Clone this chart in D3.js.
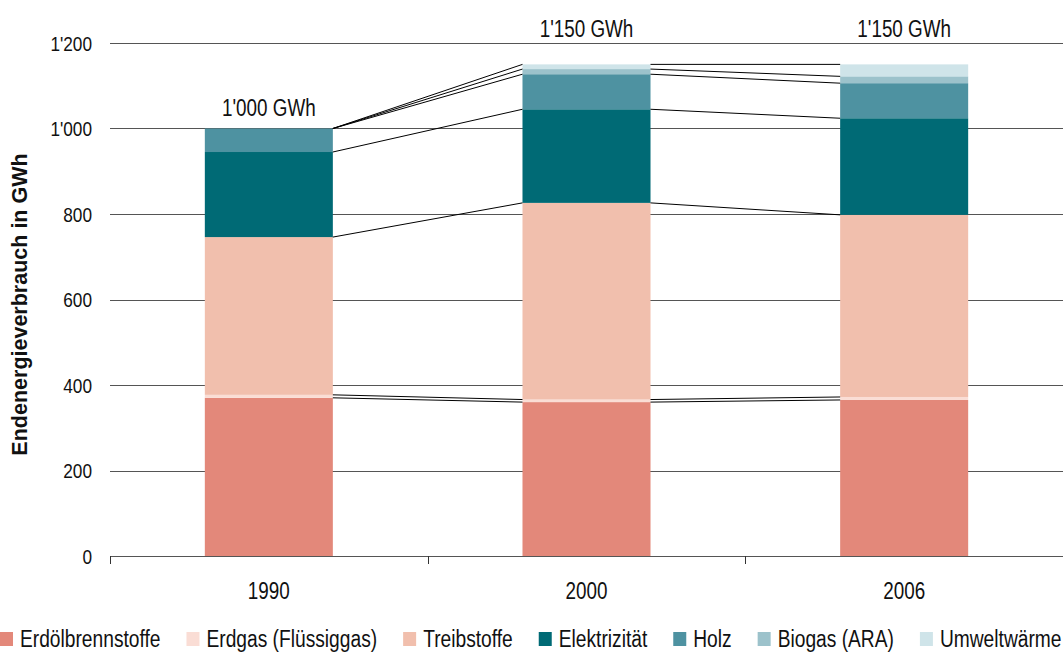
<!DOCTYPE html>
<html><head><meta charset="utf-8">
<script src="https://cdn.jsdelivr.net/npm/d3@7"></script>
<style>
html,body{margin:0;padding:0;background:#fff;}
svg{display:block;font-family:"Liberation Sans",Arial,sans-serif;}
</style></head>
<body>
<svg id="chart" width="1063" height="653"></svg>
<script>
const categories = ["1990", "2000", "2006"];
const seriesNames = ["Erdölbrennstoffe", "Erdgas (Flüssiggas)", "Treibstoffe", "Elektrizität", "Holz", "Biogas (ARA)", "Umweltwärme"];
const erdoel      = [370, 360, 365];
const erdgas      = [7, 6, 7];
const treibstoffe = [369, 460, 426];
const elektrizitaet = [199, 219, 226];
const holz        = [55, 82, 82];
const biogas      = [0, 12, 16];
const umweltwaerme = [0, 11, 28];
const totalLabels = ["1'000 GWh", "1'150 GWh", "1'150 GWh"];
const yTicks = [0, 200, 400, 600, 800, 1000, 1200];
const colors = ["#E3887A", "#FADDD5", "#F1BFAD", "#006A75", "#4E92A1", "#9CC2CB", "#CFE4E9"];

const seriesValues = [erdoel, erdgas, treibstoffe, elektrizitaet, holz, biogas, umweltwaerme];
const table = categories.map((c, i) => {
  const row = {cat: c};
  seriesNames.forEach((s, k) => row[s] = seriesValues[k][i]);
  return row;
});
const stacked = d3.stack().keys(seriesNames)(table);

const svg = d3.select("#chart");
const x = d3.scaleBand().domain(categories).range([110, 1063]).paddingInner(0.597).paddingOuter(0.2985);
const y = d3.scaleLinear().domain([0, 1200]).range([556, 43]);
const fmt = v => d3.format(",")(v).replace(/,/g, "'");
const NARROW = 0.82;

// condensed text helper (no narrow font installed)
function ntext(parent, tx, ty, str, size, anchor, dy, sx) {
  const gg = parent.append("g").attr("transform", `translate(${tx},${ty}) scale(${sx || NARROW},1)`);
  const t = gg.append("text").attr("x", 0).attr("y", 0)
    .attr("font-size", size).attr("fill", "#111").attr("text-anchor", anchor || "start").text(str);
  if (dy) t.attr("dy", dy);
  return t;
}

// gridlines
svg.append("g").selectAll("line").data(yTicks.filter(t => t > 0)).join("line")
  .attr("x1", 110).attr("x2", 1063)
  .attr("y1", d => Math.round(y(d)) + 0.5).attr("y2", d => Math.round(y(d)) + 0.5)
  .attr("stroke", "#555").attr("stroke-width", 1);

// y tick labels
const yl = svg.append("g");
yTicks.forEach(t => ntext(yl, 92, y(t), fmt(t), 21, "end", "0.36em"));

// y axis title
svg.append("text")
  .attr("transform", `translate(27,${(152 + 457) / 2}) rotate(-90)`)
  .attr("text-anchor", "middle").attr("font-size", 21.5).attr("font-weight", "bold").attr("fill", "#111")
  .text("Endenergieverbrauch in GWh");

// bars
const g = svg.append("g");
stacked.forEach((layer, k) => {
  g.selectAll(null).data(layer).join("rect")
    .attr("x", d => x(d.data.cat))
    .attr("width", x.bandwidth())
    .attr("y", d => y(d[1]))
    .attr("height", d => y(d[0]) - y(d[1]))
    .attr("fill", colors[k]);
});

// connector lines
const conn = svg.append("g");
stacked.forEach(layer => {
  for (let i = 0; i < categories.length - 1; i++) {
    conn.append("line")
      .attr("x1", x(categories[i]) + x.bandwidth())
      .attr("y1", y(layer[i][1]))
      .attr("x2", x(categories[i + 1]))
      .attr("y2", y(layer[i + 1][1]))
      .attr("stroke", "#000").attr("stroke-width", 1);
  }
});

// total labels (moved above a gridline if they would cross it)
const totals = categories.map((c, i) => d3.sum(seriesValues, s => s[i]));
const tl = svg.append("g");
categories.forEach((c, i) => {
  let base = y(totals[i]) - 13;
  const top = base - 17;
  yTicks.forEach(t => { const gy = y(t); if (gy > top && gy < base) base = gy - 6; });
  ntext(tl, x(c) + x.bandwidth() / 2, base, totalLabels[i], 23, "middle");
});

// x axis
const xa = svg.append("g");
xa.append("line").attr("x1", 110).attr("x2", 1063).attr("y1", 556.5).attr("y2", 556.5)
  .attr("stroke", "#555").attr("stroke-width", 1);
const bounds = [110].concat(categories.map(c => x(c) - x.step() * x.paddingOuter() + x.step()));
xa.selectAll(".tk").data(bounds).join("line")
  .attr("x1", d => Math.round(d) + 0.5).attr("x2", d => Math.round(d) + 0.5)
  .attr("y1", 556).attr("y2", 564).attr("stroke", "#333").attr("stroke-width", 1);
categories.forEach(c => ntext(xa, x(c) + x.bandwidth() / 2, 599, c, 23, "middle"));

// legend
const leg = svg.append("g");
const LSX = 0.835;
let lx = 0;
seriesNames.forEach((s, k) => {
  leg.append("rect").attr("x", lx).attr("y", 632).attr("width", 13).attr("height", 14).attr("fill", colors[k]);
  const t = ntext(leg, lx + 20, 647, s, 23, "start", null, LSX);
  lx += 20 + t.node().getComputedTextLength() * LSX + 26;
});
</script>
</body></html>
